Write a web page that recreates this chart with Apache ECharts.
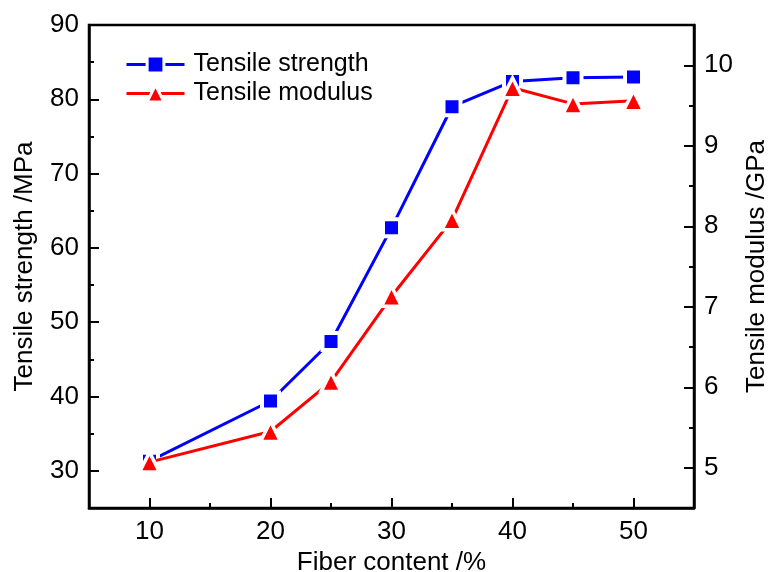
<!DOCTYPE html>
<html>
<head>
<meta charset="utf-8">
<script src="https://cdn.jsdelivr.net/npm/echarts@6/dist/echarts.min.js"></script>
<style>
  html, body { margin: 0; padding: 0; background: #fff; }
  #chart { width: 768px; height: 572px; }
</style>
</head>
<body>
<div id="chart"></div>
<script>
// Fiber content (%) on the x axis
const fiberContent = [10, 20, 25, 30, 35, 40, 45, 50];
// Tensile strength (MPa), left axis
const tensileStrength = [31.3, 39.4, 47.4, 62.7, 79.0, 82.4, 82.9, 83.0];
// Tensile modulus (GPa), right axis
const tensileModulus = [5.07, 5.45, 6.07, 7.13, 8.08, 9.72, 9.52, 9.56];

// Major tick positions (labelled)
const xMajorTicks = [10, 20, 30, 40, 50];
const strengthMajorTicks = [30, 40, 50, 60, 70, 80, 90];
const modulusMajorTicks = [5, 6, 7, 8, 9, 10];

const FONT = 'Liberation Sans, Arial, sans-serif';
const AXIS_W = 2.5;

const chart = echarts.init(document.getElementById('chart'), null, { renderer: 'canvas' });

const onlyMajor = (majors) => (v) => (majors.some(m => Math.abs(m - v) < 1e-6) ? String(v) : '');

// Axis with minor ticks + labels, and an overlaid axis that only draws the long major ticks
function minorAxis(base, majors, labelMargin) {
  return Object.assign({
    type: 'value',
    axisLine: { show: true, onZero: false, lineStyle: { color: '#000', width: AXIS_W } },
    axisTick: { show: true, inside: true, length: 5, lineStyle: { color: '#000', width: 2 } },
    axisLabel: {
      show: true, color: '#000', fontFamily: FONT, fontSize: 26, margin: labelMargin,
      formatter: onlyMajor(majors)
    },
    splitLine: { show: false }
  }, base);
}
function majorAxis(base, majors) {
  return Object.assign({
    type: 'value',
    axisLine: { show: false },
    axisTick: { show: true, inside: true, length: 10, customValues: majors, lineStyle: { color: '#000', width: 2 } },
    axisLabel: { show: false },
    splitLine: { show: false }
  }, base);
}

const nameStyle = { color: '#000', fontFamily: FONT, fontSize: 26 };

const option = {
  backgroundColor: '#fff',
  animation: false,
  grid: {
    left: 89, right: 74, top: 25, bottom: 64,
    containLabel: false,
    outerBoundsMode: 'none',
    show: true, borderColor: '#000', borderWidth: AXIS_W, backgroundColor: 'transparent'
  },
  legend: {
    left: 120, top: 47, orient: 'vertical',
    itemWidth: 58, itemHeight: 21, itemGap: 4,
    selectedMode: false,
    lineStyle: { width: 3 },
    itemStyle: { borderColor: '#fff', borderWidth: 3 },
    textStyle: { color: '#000', fontFamily: FONT, fontSize: 25, lineHeight: 22, padding: [0, 0, 0, 4] },
    data: ['Tensile strength', 'Tensile modulus']
  },
  xAxis: [
    minorAxis({
      min: 5, max: 55, interval: 5, position: 'bottom',
      name: 'Fiber content /%', nameLocation: 'middle', nameGap: 37, nameTextStyle: nameStyle
    }, xMajorTicks, 11),
    majorAxis({ min: 5, max: 55, interval: 5, position: 'bottom', offset: 0 }, xMajorTicks)
  ],
  yAxis: [
    minorAxis({
      min: 25, max: 90, interval: 5, position: 'left',
      name: 'Tensile strength /MPa', nameLocation: 'middle', nameGap: 51, nameTextStyle: nameStyle
    }, strengthMajorTicks, 10),
    majorAxis({ min: 25, max: 90, interval: 5, position: 'left', offset: 0 }, strengthMajorTicks),
    minorAxis({
      min: 4.5, max: 10.5, interval: 0.5, position: 'right',
      name: 'Tensile modulus /GPa', nameLocation: 'middle', nameGap: 48, nameTextStyle: nameStyle
    }, modulusMajorTicks, 10),
    majorAxis({ min: 4.5, max: 10.5, interval: 0.5, position: 'right', offset: 0 }, modulusMajorTicks)
  ],
  series: [
    {
      name: 'Tensile strength',
      type: 'line',
      xAxisIndex: 0, yAxisIndex: 0,
      data: fiberContent.map((x, i) => [x, tensileStrength[i]]),
      symbol: 'rect', symbolSize: 17,
      lineStyle: { color: '#0000ff', width: 3 },
      itemStyle: { color: '#0000ff', borderColor: '#fff', borderWidth: 4 },
      z: 3
    },
    {
      name: 'Tensile modulus',
      type: 'line',
      xAxisIndex: 0, yAxisIndex: 2,
      data: fiberContent.map((x, i) => [x, tensileModulus[i]]),
      symbol: 'triangle', symbolSize: 20,
      lineStyle: { color: '#ff0000', width: 3 },
      itemStyle: { color: '#ff0000', borderColor: '#fff', borderWidth: 3.5 },
      z: 4
    }
  ]
};

chart.setOption(option);
</script>
</body>
</html>
